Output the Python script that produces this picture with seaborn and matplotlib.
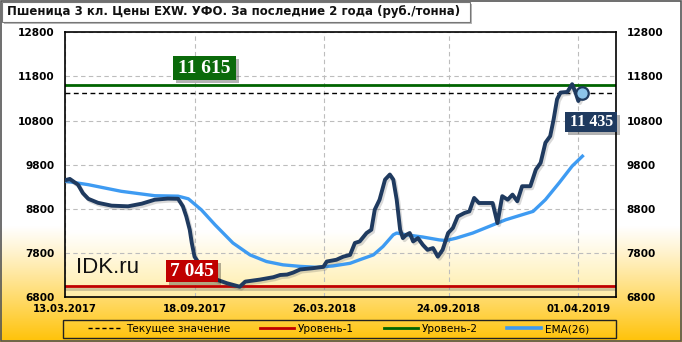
import numpy as np
import pandas as pd
import matplotlib
matplotlib.use("Agg")
import matplotlib.pyplot as plt
import matplotlib.dates as mdates
import matplotlib.patheffects as pe
from matplotlib.patches import Rectangle
from matplotlib.lines import Line2D
import seaborn as sns

# ---------------- data ----------------
price_dates = [
    "13.03.2017", "20.03.2017", "01.04.2017", "08.04.2017", "16.04.2017", "30.04.2017",
    "20.05.2017", "13.06.2017", "03.07.2017", "22.07.2017", "10.08.2017", "25.08.2017",
    "01.09.2017", "06.09.2017", "11.09.2017", "14.09.2017", "18.09.2017", "21.09.2017",
    "30.09.2017", "15.10.2017", "04.11.2017", "23.11.2017", "01.12.2017", "22.12.2017",
    "11.01.2018", "21.01.2018", "31.01.2018", "09.02.2018", "19.02.2018", "10.03.2018",
    "25.03.2018", "30.03.2018", "13.04.2018", "23.04.2018", "03.05.2018", "10.05.2018",
    "17.05.2018", "27.05.2018", "03.06.2018", "08.06.2018", "15.06.2018", "23.06.2018",
    "30.06.2018", "05.07.2018", "10.07.2018", "15.07.2018", "19.07.2018", "24.07.2018",
    "29.07.2018", "03.08.2018", "10.08.2018", "17.08.2018", "24.08.2018", "01.09.2018",
    "08.09.2018", "15.09.2018", "23.09.2018", "30.09.2018", "07.10.2018", "17.10.2018",
    "24.10.2018", "31.10.2018", "07.11.2018", "27.11.2018", "04.12.2018", "11.12.2018",
    "19.12.2018", "26.12.2018", "02.01.2019", "09.01.2019", "21.01.2019", "29.01.2019",
    "05.02.2019", "12.02.2019", "19.02.2019", "24.02.2019", "01.03.2019", "06.03.2019",
    "16.03.2019", "23.03.2019", "28.03.2019", "01.04.2019", "07.04.2019",
]
price_values = [
    9450, 9480, 9350, 9160, 9030, 8940,
    8875, 8860, 8920, 9010, 9035, 9030,
    8860, 8630, 8330, 8030, 7720, 7650,
    7420, 7230, 7120, 7040, 7155, 7200,
    7255, 7305, 7315, 7360, 7430, 7460,
    7490, 7610, 7650, 7720, 7760, 8030,
    8065, 8255, 8330, 8785, 9010, 9465,
    9580, 9465, 9010, 8330, 8140, 8215,
    8255, 8065, 8140, 7990, 7875, 7915,
    7720, 7875, 8255, 8370, 8630, 8710,
    8745, 9050, 8935, 8935, 8480, 9090,
    9010, 9125, 8975, 9315, 9315, 9690,
    9845, 10300, 10450, 10830, 11285, 11435,
    11450, 11625, 11435, 11245, 11435,
]
ema_dates = [
    "13.03.2017", "16.04.2017", "03.06.2017", "22.07.2017", "25.08.2017", "09.09.2017",
    "28.09.2017", "18.10.2017", "13.11.2017", "08.12.2017", "01.01.2018", "25.01.2018",
    "19.02.2018", "15.03.2018", "08.04.2018", "03.05.2018", "17.05.2018", "06.06.2018",
    "20.06.2018", "05.07.2018", "10.07.2018", "24.07.2018", "17.08.2018", "10.09.2018",
    "20.09.2018", "05.10.2018", "29.10.2018", "22.11.2018", "16.12.2018", "25.01.2019",
    "12.02.2019", "04.03.2019", "23.03.2019", "07.04.2019",
]
ema_values = [
    9430, 9350, 9200, 9100, 9090, 9030,
    8780, 8440, 8030, 7760, 7610, 7535,
    7500, 7480, 7510, 7570, 7650, 7760,
    7950, 8215, 8255, 8215, 8165, 8100,
    8085, 8140, 8255, 8405, 8555, 8745,
    9010, 9390, 9770, 9995,
]
current_value = 11435
level_1 = 7045
level_2 = 11615
x_tick_dates = ["13.03.2017", "18.09.2017", "26.03.2018", "24.09.2018", "01.04.2019"]
x_limits = ["13.03.2017", "26.05.2019"]
y_ticks = [6800, 7800, 8800, 9800, 10800, 11800, 12800]
title_text = "Пшеница 3 кл. Цены EXW. УФО. За последние 2 года (руб./тонна)"
legend_labels = ["Текущее значение", "Уровень-1", "Уровень-2", "EMA(26)"]
watermark = "IDK.ru"


def fmt_num(v):
    return f"{v:,}".replace(",", " ")


# ---------------- styles ----------------
W, H = 682, 342
DPI = 100
C_PRICE = "#1F3A5F"
C_EMA = "#3E9BF2"
C_RED = "#C00000"
C_GREEN = "#0A6A0A"

plt.rcParams["font.family"] = ["DejaVu Sans"]

fig = plt.figure(figsize=(W / DPI, H / DPI), dpi=DPI)


def fx(x):
    return x / W


def fy(y):
    return 1 - y / H


# figure background gradient
bg = fig.add_axes([0, 0, 1, 1], zorder=-10)
bg.axis("off")
rows = np.arange(H)
t = np.clip((rows - 225) / (H - 225), 0, 1) ** 1.1
top = np.array([1.0, 1.0, 1.0])
bot = np.array([1.0, 0.76, 0.02])
grad = (1 - t)[:, None] * top + t[:, None] * bot
bg.imshow(np.repeat(grad[:, None, :], 2, axis=1), aspect="auto", extent=[0, 1, 0, 1])
bg.set_xlim(0, 1)
bg.set_ylim(0, 1)

# plot area
L, R, T, B = 65, 616, 32.3, 297.3
pos = [fx(L), fy(B), fx(R) - fx(L), fy(T) - fy(B)]
pbg = fig.add_axes(pos, zorder=-5)
pbg.axis("off")
prow = np.linspace(T, B, 200)
tp = np.clip((prow - 232) / (B - 232), 0, 1)
pbot = np.array([1.0, 0.93, 0.66])
pgrad = (1 - tp)[:, None] * top + tp[:, None] * pbot
pbg.imshow(np.repeat(pgrad[:, None, :], 2, axis=1), aspect="auto", extent=[0, 1, 0, 1])
pbg.set_xlim(0, 1)
pbg.set_ylim(0, 1)

ax = fig.add_axes(pos, zorder=1)
ax.patch.set_visible(False)

pdates = pd.to_datetime(price_dates, format="%d.%m.%Y")
edates = pd.to_datetime(ema_dates, format="%d.%m.%Y")
xt = pd.to_datetime(x_tick_dates, format="%d.%m.%Y")
xl = pd.to_datetime(x_limits, format="%d.%m.%Y")

# grid
ax.set_axisbelow(True)
ax.grid(True, color="#BDBDBD", lw=0.8, ls=(0, (4, 3)))

shadow = [pe.SimpleLineShadow(offset=(1.0, -1.5), shadow_color="#555555", alpha=0.3), pe.Normal()]

ax.axhline(current_value, color="black", lw=1.0, ls=(0, (3.5, 2.5)), zorder=2)
ax.axhline(level_1, color=C_RED, lw=2.0, zorder=2, path_effects=shadow)
ax.axhline(level_2, color="#006400", lw=2.0, zorder=2)

sns.lineplot(x=edates, y=ema_values, color=C_EMA, lw=2.4, ax=ax, zorder=3)
sns.lineplot(x=pdates, y=price_values, color=C_PRICE, lw=2.8, ax=ax, zorder=4,
             path_effects=[pe.SimpleLineShadow(offset=(1.2, -1.5), shadow_color="#444444", alpha=0.2), pe.Normal()])
ax.plot(pdates[-1:], price_values[-1:], "o", ms=9, mfc="#8CC4EA", mec=C_PRICE, mew=1.6, zorder=6)

ax.set_xlim(xl[0], xl[1])
ax.set_ylim(y_ticks[0], y_ticks[-1])
ax.set_xticks(xt)
ax.set_xticklabels([d.strftime("%d.%m.%Y") for d in xt], fontweight="bold", fontsize=7.3)
ax.set_yticks(y_ticks)
ax.set_yticklabels([str(v) for v in y_ticks], fontweight="bold", fontsize=7.6)
ax.tick_params(axis="y", length=0, pad=7.5, left=False, right=False, labelleft=True, labelright=True)
ax.tick_params(axis="x", length=0, pad=4.5)
ax.set_xlabel("")
ax.set_ylabel("")
for s in ax.spines.values():
    s.set_color("black")
    s.set_linewidth(1.2)


def to_img(xv, yv):
    """data -> image pixel coords (top-left origin)"""
    d = ax.transData.transform((mdates.date2num(xv), yv))
    return d[0], H - d[1]


def label_box(cx, cy, w, h, text, color, size):
    fig.add_artist(Rectangle((fx(cx - w / 2 + 3), fy(cy + h / 2 + 3)), w / W, h / H,
                             transform=fig.transFigure, color="#000000", alpha=0.3, lw=0, zorder=7))
    fig.add_artist(Rectangle((fx(cx - w / 2), fy(cy + h / 2)), w / W, h / H,
                             transform=fig.transFigure, color=color, lw=0, zorder=8))
    fig.text(fx(cx), fy(cy + 0.5), text, color="white", fontsize=size, fontweight="bold",
             family="Liberation Serif", ha="center", va="center", zorder=9)


_, ygreen = to_img(pdates[0], level_2)
_, yred = to_img(pdates[0], level_1)
xlast, ylast = to_img(pdates[-1], price_values[-1])
label_box(204.7, ygreen - 16.5, 63, 24, fmt_num(level_2), C_GREEN, 14)
label_box(192, yred - 15, 52, 22, fmt_num(level_1), C_RED, 14)
label_box(xlast + 9, ylast + 29, 52, 20, fmt_num(current_value), C_PRICE, 11.5)

# watermark
fig.text(fx(76), fy(273), watermark, fontsize=16, family="Liberation Sans",
         ha="left", va="baseline", color="#111111", zorder=5)

# title box
fig.add_artist(Rectangle((fx(4), fy(23.5)), (470 - 2) / W, (21.5 - 2) / H,
                         transform=fig.transFigure, color="#888888", alpha=0.6, lw=0, zorder=7))
fig.add_artist(Rectangle((fx(2), fy(21.5)), (470 - 2) / W, (21.5 - 2) / H,
                         transform=fig.transFigure, facecolor="white", edgecolor="#777777", lw=0.8, zorder=8))
fig.text(fx(7), fy(12), title_text, fontsize=8.5, fontweight="bold", ha="left", va="center",
         color="#111111", zorder=9)

# legend
fig.add_artist(Rectangle((fx(63), fy(338)), (616 - 63) / W, (338 - 320) / H,
                         transform=fig.transFigure, fill=False, edgecolor="#222222", lw=1.0, zorder=8))
handles = [
    Line2D([], [], color="black", lw=1.0, ls=(0, (3, 2))),
    Line2D([], [], color=C_RED, lw=2.0),
    Line2D([], [], color="#006400", lw=2.0),
    Line2D([], [], color=C_EMA, lw=2.6),
]
fig.legend(handles, legend_labels, loc="center", bbox_to_anchor=(fx(339), fy(329)), ncol=4,
           frameon=False, fontsize=7.6, handlelength=3.2, columnspacing=2.8, handletextpad=0.4,
           borderpad=0.1)

# figure border
fig.add_artist(Rectangle((0.0008, 0.0015), 0.9984, 0.997, transform=fig.transFigure,
                         fill=False, edgecolor="#555555", lw=1.2, zorder=10))

fig.savefig("out.png", dpi=DPI)
